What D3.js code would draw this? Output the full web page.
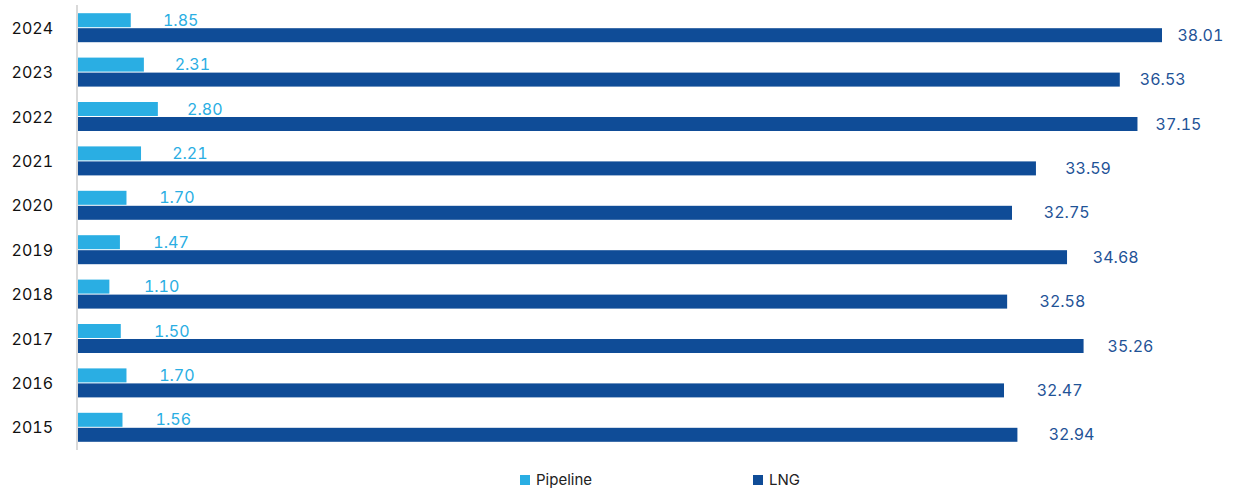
<!DOCTYPE html>
<html>
<head>
<meta charset="utf-8">
<script src="https://cdn.jsdelivr.net/npm/d3@7"></script>
<style>
  body { margin: 0; background: #fff; }
  text { font-family: Inter, "Liberation Sans", Arial, sans-serif; font-variant-numeric: tabular-nums; font-feature-settings: "tnum"; }
</style>
</head>
<body>
<svg id="chart" width="1237" height="490"></svg>
<script>
"use strict";

// données
var years = ["2024", "2023", "2022", "2021", "2020", "2019", "2018", "2017", "2016", "2015"];
var pipeline = [1.85, 2.31, 2.80, 2.21, 1.70, 1.47, 1.10, 1.50, 1.70, 1.56];
var lng = [38.01, 36.53, 37.15, 33.59, 32.75, 34.68, 32.58, 35.26, 32.47, 32.94];
var seriesNames = ["Pipeline", "LNG"];
var colors = ["#2aaee3", "#0f4c97"];
var labelColors = ["#2aaee3", "#1f5397"];

var svg = d3.select("#chart");

var x = d3.scaleLinear().domain([0, 38.01]).range([78, 1162]);
var y = d3.scaleBand().domain(years).range([6, 450]);
// position des étiquettes (placées comme dans l'original)
var lx = d3.scaleLinear().domain([0, 40]).range([0, 1016]);
var labelBase = [116, 212];

var rows = years.map(function (yr, i) {
  return { year: yr, vals: [pipeline[i], lng[i]] };
});

// axe vertical
svg.append("line")
  .attr("x1", 77).attr("x2", 77)
  .attr("y1", y.range()[0] - 1).attr("y2", y.range()[1])
  .attr("stroke", "#d9d9d9").attr("stroke-width", 2);

var g = svg.selectAll("g.row")
  .data(rows)
  .enter()
  .append("g")
  .attr("class", "row")
  .attr("transform", function (d) { return "translate(0," + (y(d.year) + y.bandwidth() / 2) + ")"; });

g.append("text")
  .attr("x", 53)
  .attr("y", 0)
  .attr("dy", "0.35em")
  .attr("text-anchor", "end")
  .attr("font-size", 16)
  .attr("fill", "#111")
  .text(function (d) { return d.year; });

[0, 1].forEach(function (s) {
  var top = s === 0 ? -15 : 0;
  g.append("rect")
    .attr("x", x(0))
    .attr("y", top)
    .attr("width", function (d) { return x(d.vals[s]) - x(0); })
    .attr("height", 14)
    .attr("fill", colors[s]);

  g.append("text")
    .attr("x", function (d) { return labelBase[s] + lx(d.vals[s]); })
    .attr("y", top + 7)
    .attr("dy", "0.35em")
    .attr("font-size", 16)
    .attr("fill", labelColors[s])
    .text(function (d) { return d.vals[s].toFixed(2); });
});

// légende
var legend = svg.append("g").attr("class", "legend");
var legX = [520, 753];
seriesNames.forEach(function (name, i) {
  legend.append("rect")
    .attr("x", legX[i]).attr("y", 475)
    .attr("width", 10).attr("height", 10)
    .attr("fill", colors[i]);
  legend.append("text")
    .attr("x", legX[i] + 16).attr("y", 480)
    .attr("dy", "0.35em")
    .attr("font-size", 15)
    .attr("fill", "#222")
    .text(name);
});
</script>
</body>
</html>
